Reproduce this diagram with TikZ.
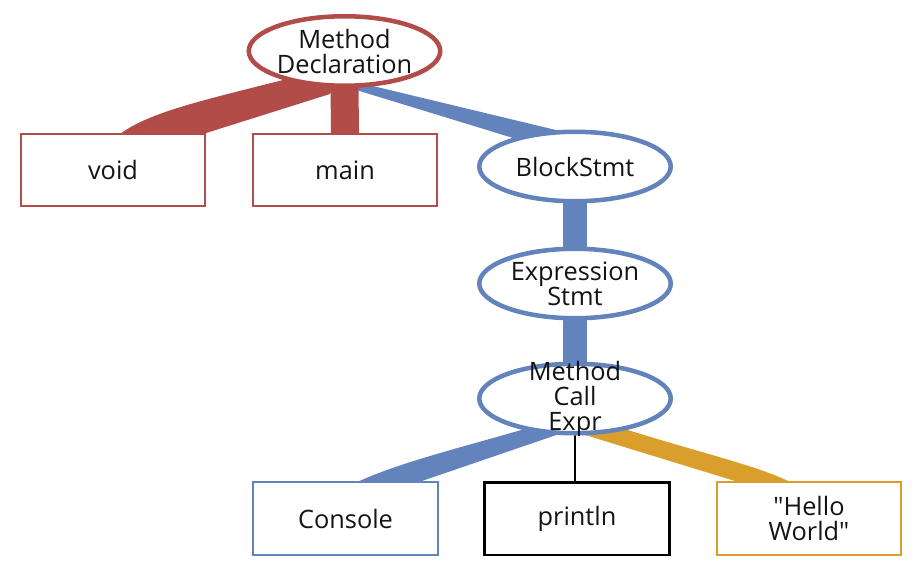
\documentclass[tikz,border=0pt]{standalone}
\usepackage{fontspec}
\setmainfont{Open Sans}[Ligatures=TeXOff]
\usetikzlibrary{shapes.geometric,backgrounds}
\definecolor{redc}{RGB}{177,76,73}
\definecolor{bluec}{RGB}{99,131,188}
\definecolor{orangec}{RGB}{217,158,43}
\definecolor{txtc}{RGB}{20,20,20}
\tikzset{
  txt/.style={align=center, text=txtc, font=\fontsize{19}{18.75}\selectfont, inner sep=0pt},
  ell/.style={ellipse, draw=#1, line width=3.4pt, fill=white,
    minimum width=143.6pt, minimum height=52.1pt, inner sep=0pt},
  boxn/.style={rectangle, draw=#1, line width=1.5pt, fill=white,
    minimum width=138.5pt, minimum height=54.5pt, txt},
  band/.style={fill=#1, draw=none},
  vband/.style 2 args={draw=#1, line width=#2},
}
\begin{document}
\begin{tikzpicture}[x=0.75pt,y=-0.75pt]
\useasboundingbox (0,0) rectangle (916,565);
% nodes
\node[ell=redc, label={[txt]center:{Method\\Declaration}}] (md) at (344.5,51) {};
\node[ell=bluec, label={[txt]center:{BlockStmt}}] (bs) at (575,166.5) {};
\node[ell=bluec, label={[txt]center:{Expression\\Stmt}}] (es) at (575,283.5) {};
\node[ell=bluec, label={[txt]center:{Method\\Call\\Expr}}] (mce) at (575,398.5) {};
\node[boxn=redc] (void) at (113,170) {void};
\node[boxn=redc] (main) at (345,170) {main};
\node[boxn=bluec] (console) at (345.5,518.5) {Console};
\node[boxn=black, line width=2pt] (println) at (577,518.5) {println};
\node[boxn=orangec] (hello) at (809,518.5) {"Hello\\World"};
% connectors
\begin{scope}[on background layer]
  % MethodDeclaration -> BlockStmt (blue, tapered)
  \fill[band=bluec] ([shift={(10.5,30.7)}]md.center) -- ([shift={(10,-29.5)}]bs.center)
    -- ([shift={(10,-6.5)}]bs.center) -- ([shift={(10.5,38.6)}]md.center) -- cycle;
  % MethodDeclaration -> void (red)
  \fill[band=redc] ([shift={(-49.5,26)}]md.center)
    .. controls ([shift={(87,-69)}]void.center) and ([shift={(37,-58)}]void.center) .. ([shift={(7,-36)}]void.center)
    -- ([shift={(90,-36)}]void.center) -- ([shift={(-14.5,43)}]md.center)
    -- ([shift={(-8.5,29)}]md.center) -- cycle;
  % MethodDeclaration -> main (red)
  \draw[vband={redc}{21pt}] (md.center) -- (main.center);
  % BlockStmt -> ExpressionStmt -> MethodCallExpr (blue)
  \draw[vband={bluec}{17.5pt}] (bs.center) -- (es.center);
  \draw[vband={bluec}{17.5pt}] (es.center) -- (mce.center);
  % MethodCallExpr -> Console (blue)
  \fill[band=bluec] ([shift={(-40,27.5)}]mce.center)
    .. controls ([shift={(114.5,-70.5)}]console.center) and ([shift={(54.5,-56.5)}]console.center) .. ([shift={(9.5,-35.5)}]console.center)
    -- ([shift={(70.5,-35.5)}]console.center) -- ([shift={(-7,32.5)}]mce.center) -- cycle;
  % MethodCallExpr -> "Hello World" (orange)
  \fill[band=orangec] ([shift={(40,27.5)}]mce.center)
    .. controls ([shift={(-109,-65.5)}]hello.center) and ([shift={(-49,-52.5)}]hello.center) .. ([shift={(-17,-35.5)}]hello.center)
    -- ([shift={(-67.5,-35.5)}]hello.center) -- ([shift={(7,35.5)}]mce.center) -- cycle;
  % MethodCallExpr -> println (black)
  \draw[black, line width=2pt] (mce.center) -- (mce.center |- println.center);
\end{scope}
\end{tikzpicture}
\end{document}
